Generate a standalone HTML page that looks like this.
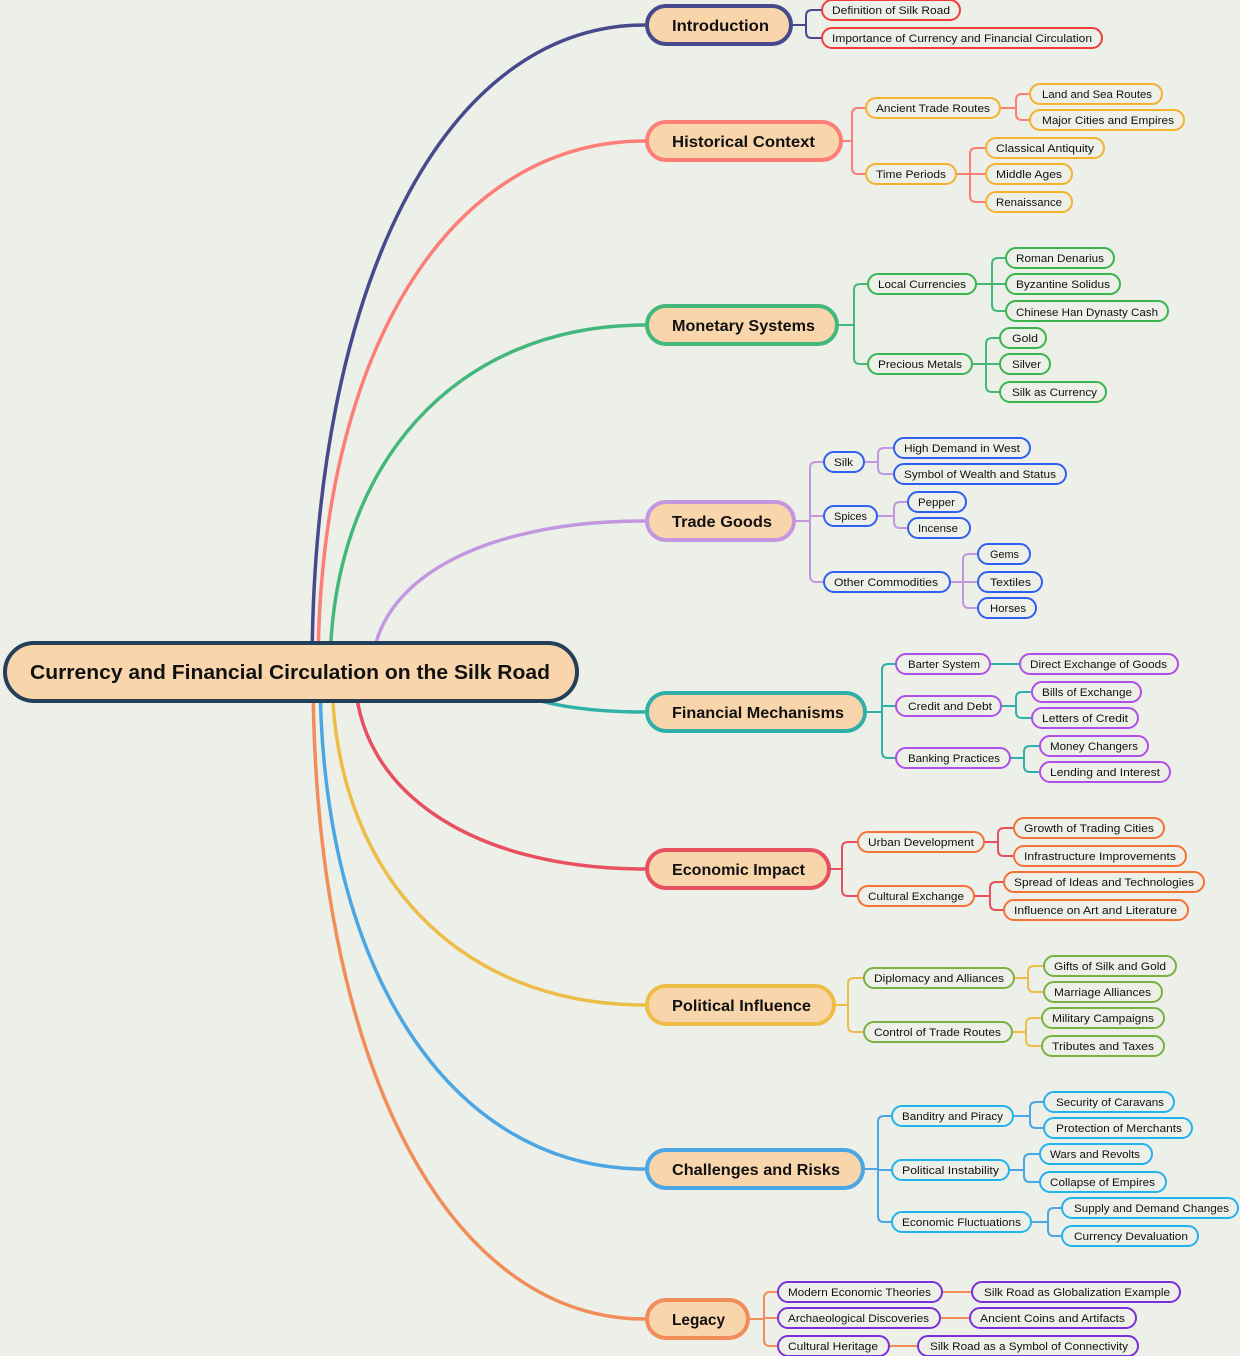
<!DOCTYPE html>
<html><head><meta charset="utf-8"><style>
html,body{margin:0;padding:0;background:#ecf0e9;}
svg{display:block;}
text{font-family:"Liberation Sans","DejaVu Sans",sans-serif;fill:#111;}
.s{font-size:11px;}
.m{font-size:16px;font-weight:bold;}
.r{font-size:20px;font-weight:bold;}
.c{fill:none;stroke-width:2;stroke-linejoin:round;}
.mc{fill:none;stroke-width:3.5;}
</style></head><body>
<svg width="1240" height="1356" viewBox="0 0 1240 1356" xmlns="http://www.w3.org/2000/svg">
<rect width="1240" height="1356" fill="#ecf0e9"/>
<!-- main curves -->
<path class="mc" stroke="#464a8c" d="M312,672 C312,284 445,25 645,25"/>
<path class="mc" stroke="#fd7d77" d="M318,672 C318,353 449,141 645,141"/>
<path class="mc" stroke="#44b87a" d="M330,672 C330,464 456,325 645,325"/>
<path class="mc" stroke="#c397e0" d="M372,672 C372,581 481,521 645,521"/>
<path class="mc" stroke="#2fb0a8" d="M530,698 Q575,712 645,712"/>
<path class="mc" stroke="#e8505f" d="M355,672 C355,790 471,869 645,869"/>
<path class="mc" stroke="#edbd48" d="M332,672 C332,872 457,1005 645,1005"/>
<path class="mc" stroke="#4ba6e3" d="M320,672 C320,970 450,1169 645,1169"/>
<path class="mc" stroke="#f28c58" d="M313,672 C313,1060 446,1319 645,1319"/>

<!-- sub connectors -->
<path class="c" stroke="#464a8c" d="M792,25H806 M806,25V16Q806,10 812,10H822 M806,25V32Q806,38 812,38H822"/>
<path class="c" stroke="#fd7d77" d="M842,141H852 M852,141V114Q852,108 858,108H866 M852,141V168Q852,174 858,174H866
M1000,108H1016 M1016,108V100Q1016,94 1022,94H1030 M1016,108V114Q1016,120 1022,120H1030
M956,174H970 M970,174V154Q970,148 976,148H986 M970,174H986 M970,174V196Q970,202 976,202H986"/>
<path class="c" stroke="#44b87a" d="M838,325H854 M854,325V290Q854,284 860,284H868 M854,325V358Q854,364 860,364H868
M976,284H992 M992,284V264Q992,258 998,258H1006 M992,284H1006 M992,284V305Q992,311 998,311H1006
M972,364H986 M986,364V344Q986,338 992,338H1000 M986,364H1000 M986,364V386Q986,392 992,392H1000"/>
<path class="c" stroke="#c397e0" d="M795,521H810 M810,521V468Q810,462 816,462H824 M810,521V516H824 M810,521V576Q810,582 816,582H824
M864,462H878 M878,462V454Q878,448 884,448H894 M878,462V468Q878,474 884,474H894
M877,516H894 M894,516V508Q894,502 900,502H908 M894,516V522Q894,528 900,528H908
M950,582H963 M963,582V560Q963,554 969,554H978 M963,582H978 M963,582V602Q963,608 969,608H978"/>
<path class="c" stroke="#2fb0a8" d="M866,712H882 M882,712V670Q882,664 888,664H896 M882,712V706H896 M882,712V752Q882,758 888,758H896
M990,664H1020
M1001,706H1016 M1016,706V698Q1016,692 1022,692H1032 M1016,706V712Q1016,718 1022,718H1032
M1010,758H1024 M1024,758V752Q1024,746 1030,746H1040 M1024,758V766Q1024,772 1030,772H1040"/>
<path class="c" stroke="#e8505f" d="M830,869H842 M842,869V848Q842,842 848,842H858 M842,869V890Q842,896 848,896H858
M984,842H998 M998,842V834Q998,828 1004,828H1014 M998,842V850Q998,856 1004,856H1014
M974,896H990 M990,896V888Q990,882 996,882H1004 M990,896V904Q990,910 996,910H1004"/>
<path class="c" stroke="#edbd48" d="M835,1005H848 M848,1005V984Q848,978 854,978H864 M848,1005V1026Q848,1032 854,1032H864
M1014,978H1028 M1028,978V972Q1028,966 1034,966H1044 M1028,978V986Q1028,992 1034,992H1044
M1012,1032H1026 M1026,1032V1024Q1026,1018 1032,1018H1042 M1026,1032V1040Q1026,1046 1032,1046H1042"/>
<path class="c" stroke="#4ba6e3" d="M864,1169H878 M878,1169V1122Q878,1116 884,1116H892 M878,1169V1170H892 M878,1169V1216Q878,1222 884,1222H892
M1013,1116H1030 M1030,1116V1108Q1030,1102 1036,1102H1044 M1030,1116V1122Q1030,1128 1036,1128H1044
M1009,1170H1024 M1024,1170V1160Q1024,1154 1030,1154H1040 M1024,1170V1176Q1024,1182 1030,1182H1040
M1031,1222H1048 M1048,1222V1214Q1048,1208 1054,1208H1062 M1048,1222V1230Q1048,1236 1054,1236H1062"/>
<path class="c" stroke="#f28c58" d="M749,1319H764 M764,1319V1298Q764,1292 770,1292H778 M764,1319V1318H778 M764,1319V1340Q764,1346 770,1346H778
M942,1292H972 M940,1318H970 M889,1346H918"/>

<!-- root -->
<rect x="5" y="643" width="572" height="58" rx="29" fill="#f9d5ab" stroke="#243f5a" stroke-width="4"/>
<text class="r" x="30" y="679" textLength="520" lengthAdjust="spacingAndGlyphs">Currency and Financial Circulation on the Silk Road</text>

<!-- main nodes -->
<g fill="#f9d5ab" stroke-width="4">
<rect x="647" y="6" width="144" height="38" rx="19" stroke="#464a8c"/>
<rect x="647" y="122" width="194" height="38" rx="19" stroke="#fd7d77"/>
<rect x="647" y="306" width="190" height="38" rx="19" stroke="#44b87a"/>
<rect x="647" y="502" width="147" height="38" rx="19" stroke="#c397e0"/>
<rect x="647" y="693" width="218" height="38" rx="19" stroke="#2fb0a8"/>
<rect x="647" y="850" width="182" height="38" rx="19" stroke="#e8505f"/>
<rect x="647" y="986" width="187" height="38" rx="19" stroke="#edbd48"/>
<rect x="647" y="1150" width="216" height="38" rx="19" stroke="#4ba6e3"/>
<rect x="647" y="1300" width="101" height="38" rx="19" stroke="#f28c58"/>
</g>
<g class="m">
<text class="m" x="672" y="31" textLength="97" lengthAdjust="spacingAndGlyphs">Introduction</text>
<text class="m" x="672" y="147" textLength="143" lengthAdjust="spacingAndGlyphs">Historical Context</text>
<text class="m" x="672" y="331" textLength="143" lengthAdjust="spacingAndGlyphs">Monetary Systems</text>
<text class="m" x="672" y="527" textLength="100" lengthAdjust="spacingAndGlyphs">Trade Goods</text>
<text class="m" x="672" y="718" textLength="172" lengthAdjust="spacingAndGlyphs">Financial Mechanisms</text>
<text class="m" x="672" y="875" textLength="133" lengthAdjust="spacingAndGlyphs">Economic Impact</text>
<text class="m" x="672" y="1011" textLength="139" lengthAdjust="spacingAndGlyphs">Political Influence</text>
<text class="m" x="672" y="1175" textLength="168" lengthAdjust="spacingAndGlyphs">Challenges and Risks</text>
<text class="m" x="672" y="1325" textLength="53" lengthAdjust="spacingAndGlyphs">Legacy</text>
</g>

<!-- sub nodes -->
<g fill="none" stroke-width="2">
<g stroke="#f23c3c">
<rect x="822" y="0" width="138" height="20" rx="10"/>
<rect x="822" y="28" width="280" height="20" rx="10"/>
</g>
<g stroke="#f5b12b">
<rect x="866" y="98" width="134" height="20" rx="10"/>
<rect x="1030" y="84" width="132" height="20" rx="10"/>
<rect x="1030" y="110" width="154" height="20" rx="10"/>
<rect x="866" y="164" width="90" height="20" rx="10"/>
<rect x="986" y="138" width="118" height="20" rx="10"/>
<rect x="986" y="164" width="86" height="20" rx="10"/>
<rect x="986" y="192" width="86" height="20" rx="10"/>
</g>
<g stroke="#3ab44c">
<rect x="868" y="274" width="108" height="20" rx="10"/>
<rect x="1006" y="248" width="108" height="20" rx="10"/>
<rect x="1006" y="274" width="114" height="20" rx="10"/>
<rect x="1006" y="301" width="162" height="20" rx="10"/>
<rect x="868" y="354" width="104" height="20" rx="10"/>
<rect x="1000" y="328" width="46" height="20" rx="10"/>
<rect x="1000" y="354" width="50" height="20" rx="10"/>
<rect x="1000" y="382" width="106" height="20" rx="10"/>
</g>
<g stroke="#2f5ff0">
<rect x="824" y="452" width="40" height="20" rx="10"/>
<rect x="894" y="438" width="136" height="20" rx="10"/>
<rect x="894" y="464" width="172" height="20" rx="10"/>
<rect x="824" y="506" width="53" height="20" rx="10"/>
<rect x="908" y="492" width="58" height="20" rx="10"/>
<rect x="908" y="518" width="62" height="20" rx="10"/>
<rect x="824" y="572" width="126" height="20" rx="10"/>
<rect x="978" y="544" width="52" height="20" rx="10"/>
<rect x="978" y="572" width="64" height="20" rx="10"/>
<rect x="978" y="598" width="58" height="20" rx="10"/>
</g>
<g stroke="#b24ee8">
<rect x="896" y="654" width="94" height="20" rx="10"/>
<rect x="1020" y="654" width="158" height="20" rx="10"/>
<rect x="896" y="696" width="105" height="20" rx="10"/>
<rect x="1032" y="682" width="109" height="20" rx="10"/>
<rect x="1032" y="708" width="106" height="20" rx="10"/>
<rect x="896" y="748" width="114" height="20" rx="10"/>
<rect x="1040" y="736" width="108" height="20" rx="10"/>
<rect x="1040" y="762" width="130" height="20" rx="10"/>
</g>
<g stroke="#f57234">
<rect x="858" y="832" width="126" height="20" rx="10"/>
<rect x="1014" y="818" width="150" height="20" rx="10"/>
<rect x="1014" y="846" width="172" height="20" rx="10"/>
<rect x="858" y="886" width="116" height="20" rx="10"/>
<rect x="1004" y="872" width="200" height="20" rx="10"/>
<rect x="1004" y="900" width="184" height="20" rx="10"/>
</g>
<g stroke="#7ab040">
<rect x="864" y="968" width="150" height="20" rx="10"/>
<rect x="1044" y="956" width="132" height="20" rx="10"/>
<rect x="1044" y="982" width="118" height="20" rx="10"/>
<rect x="864" y="1022" width="148" height="20" rx="10"/>
<rect x="1042" y="1008" width="122" height="20" rx="10"/>
<rect x="1042" y="1036" width="122" height="20" rx="10"/>
</g>
<g stroke="#22b3ec">
<rect x="892" y="1106" width="121" height="20" rx="10"/>
<rect x="1044" y="1092" width="130" height="20" rx="10"/>
<rect x="1044" y="1118" width="148" height="20" rx="10"/>
<rect x="892" y="1160" width="117" height="20" rx="10"/>
<rect x="1040" y="1144" width="112" height="20" rx="10"/>
<rect x="1040" y="1172" width="126" height="20" rx="10"/>
<rect x="892" y="1212" width="139" height="20" rx="10"/>
<rect x="1062" y="1198" width="176" height="20" rx="10"/>
<rect x="1062" y="1226" width="136" height="20" rx="10"/>
</g>
<g stroke="#7a2fd8">
<rect x="778" y="1282" width="164" height="20" rx="10"/>
<rect x="972" y="1282" width="208" height="20" rx="10"/>
<rect x="778" y="1308" width="162" height="20" rx="10"/>
<rect x="970" y="1308" width="166" height="20" rx="10"/>
<rect x="778" y="1336" width="111" height="20" rx="10"/>
<rect x="918" y="1336" width="220" height="20" rx="10"/>
</g>
</g>

<g class="s">
<text class="s" x="832" y="14" textLength="118" lengthAdjust="spacingAndGlyphs">Definition of Silk Road</text>
<text class="s" x="832" y="42" textLength="260" lengthAdjust="spacingAndGlyphs">Importance of Currency and Financial Circulation</text>

<text class="s" x="876" y="112" textLength="114" lengthAdjust="spacingAndGlyphs">Ancient Trade Routes</text>
<text class="s" x="1042" y="98" textLength="110" lengthAdjust="spacingAndGlyphs">Land and Sea Routes</text>
<text class="s" x="1042" y="124" textLength="132" lengthAdjust="spacingAndGlyphs">Major Cities and Empires</text>
<text class="s" x="876" y="178" textLength="70" lengthAdjust="spacingAndGlyphs">Time Periods</text>
<text class="s" x="996" y="152" textLength="98" lengthAdjust="spacingAndGlyphs">Classical Antiquity</text>
<text class="s" x="996" y="178" textLength="66" lengthAdjust="spacingAndGlyphs">Middle Ages</text>
<text class="s" x="996" y="206" textLength="66" lengthAdjust="spacingAndGlyphs">Renaissance</text>

<text class="s" x="878" y="288" textLength="88" lengthAdjust="spacingAndGlyphs">Local Currencies</text>
<text class="s" x="1016" y="262" textLength="88" lengthAdjust="spacingAndGlyphs">Roman Denarius</text>
<text class="s" x="1016" y="288" textLength="94" lengthAdjust="spacingAndGlyphs">Byzantine Solidus</text>
<text class="s" x="1016" y="316" textLength="142" lengthAdjust="spacingAndGlyphs">Chinese Han Dynasty Cash</text>
<text class="s" x="878" y="368" textLength="84" lengthAdjust="spacingAndGlyphs">Precious Metals</text>
<text class="s" x="1012" y="342" textLength="26" lengthAdjust="spacingAndGlyphs">Gold</text>
<text class="s" x="1012" y="368" textLength="29" lengthAdjust="spacingAndGlyphs">Silver</text>
<text class="s" x="1012" y="396" textLength="85" lengthAdjust="spacingAndGlyphs">Silk as Currency</text>

<text class="s" x="834" y="466" textLength="19" lengthAdjust="spacingAndGlyphs">Silk</text>
<text class="s" x="904" y="452" textLength="116" lengthAdjust="spacingAndGlyphs">High Demand in West</text>
<text class="s" x="904" y="478" textLength="152" lengthAdjust="spacingAndGlyphs">Symbol of Wealth and Status</text>
<text class="s" x="834" y="520" textLength="33" lengthAdjust="spacingAndGlyphs">Spices</text>
<text class="s" x="918" y="506" textLength="37" lengthAdjust="spacingAndGlyphs">Pepper</text>
<text class="s" x="918" y="532" textLength="40" lengthAdjust="spacingAndGlyphs">Incense</text>
<text class="s" x="834" y="586" textLength="104" lengthAdjust="spacingAndGlyphs">Other Commodities</text>
<text class="s" x="990" y="558" textLength="29" lengthAdjust="spacingAndGlyphs">Gems</text>
<text class="s" x="990" y="586" textLength="41" lengthAdjust="spacingAndGlyphs">Textiles</text>
<text class="s" x="990" y="612" textLength="36" lengthAdjust="spacingAndGlyphs">Horses</text>

<text class="s" x="908" y="668" textLength="72" lengthAdjust="spacingAndGlyphs">Barter System</text>
<text class="s" x="1030" y="668" textLength="137" lengthAdjust="spacingAndGlyphs">Direct Exchange of Goods</text>
<text class="s" x="908" y="710" textLength="84" lengthAdjust="spacingAndGlyphs">Credit and Debt</text>
<text class="s" x="1042" y="696" textLength="90" lengthAdjust="spacingAndGlyphs">Bills of Exchange</text>
<text class="s" x="1042" y="722" textLength="86" lengthAdjust="spacingAndGlyphs">Letters of Credit</text>
<text class="s" x="908" y="762" textLength="92" lengthAdjust="spacingAndGlyphs">Banking Practices</text>
<text class="s" x="1050" y="750" textLength="88" lengthAdjust="spacingAndGlyphs">Money Changers</text>
<text class="s" x="1050" y="776" textLength="110" lengthAdjust="spacingAndGlyphs">Lending and Interest</text>

<text class="s" x="868" y="846" textLength="106" lengthAdjust="spacingAndGlyphs">Urban Development</text>
<text class="s" x="1024" y="832" textLength="130" lengthAdjust="spacingAndGlyphs">Growth of Trading Cities</text>
<text class="s" x="1024" y="860" textLength="152" lengthAdjust="spacingAndGlyphs">Infrastructure Improvements</text>
<text class="s" x="868" y="900" textLength="96" lengthAdjust="spacingAndGlyphs">Cultural Exchange</text>
<text class="s" x="1014" y="886" textLength="180" lengthAdjust="spacingAndGlyphs">Spread of Ideas and Technologies</text>
<text class="s" x="1014" y="914" textLength="163" lengthAdjust="spacingAndGlyphs">Influence on Art and Literature</text>

<text class="s" x="874" y="982" textLength="130" lengthAdjust="spacingAndGlyphs">Diplomacy and Alliances</text>
<text class="s" x="1054" y="970" textLength="112" lengthAdjust="spacingAndGlyphs">Gifts of Silk and Gold</text>
<text class="s" x="1054" y="996" textLength="97" lengthAdjust="spacingAndGlyphs">Marriage Alliances</text>
<text class="s" x="874" y="1036" textLength="127" lengthAdjust="spacingAndGlyphs">Control of Trade Routes</text>
<text class="s" x="1052" y="1022" textLength="102" lengthAdjust="spacingAndGlyphs">Military Campaigns</text>
<text class="s" x="1052" y="1050" textLength="102" lengthAdjust="spacingAndGlyphs">Tributes and Taxes</text>

<text class="s" x="902" y="1120" textLength="101" lengthAdjust="spacingAndGlyphs">Banditry and Piracy</text>
<text class="s" x="1056" y="1106" textLength="108" lengthAdjust="spacingAndGlyphs">Security of Caravans</text>
<text class="s" x="1056" y="1132" textLength="126" lengthAdjust="spacingAndGlyphs">Protection of Merchants</text>
<text class="s" x="902" y="1174" textLength="97" lengthAdjust="spacingAndGlyphs">Political Instability</text>
<text class="s" x="1050" y="1158" textLength="90" lengthAdjust="spacingAndGlyphs">Wars and Revolts</text>
<text class="s" x="1050" y="1186" textLength="105" lengthAdjust="spacingAndGlyphs">Collapse of Empires</text>
<text class="s" x="902" y="1226" textLength="119" lengthAdjust="spacingAndGlyphs">Economic Fluctuations</text>
<text class="s" x="1074" y="1212" textLength="155" lengthAdjust="spacingAndGlyphs">Supply and Demand Changes</text>
<text class="s" x="1074" y="1240" textLength="114" lengthAdjust="spacingAndGlyphs">Currency Devaluation</text>

<text class="s" x="788" y="1296" textLength="143" lengthAdjust="spacingAndGlyphs">Modern Economic Theories</text>
<text class="s" x="984" y="1296" textLength="186" lengthAdjust="spacingAndGlyphs">Silk Road as Globalization Example</text>
<text class="s" x="788" y="1322" textLength="141" lengthAdjust="spacingAndGlyphs">Archaeological Discoveries</text>
<text class="s" x="980" y="1322" textLength="145" lengthAdjust="spacingAndGlyphs">Ancient Coins and Artifacts</text>
<text class="s" x="788" y="1350" textLength="90" lengthAdjust="spacingAndGlyphs">Cultural Heritage</text>
<text class="s" x="930" y="1350" textLength="198" lengthAdjust="spacingAndGlyphs">Silk Road as a Symbol of Connectivity</text>
</g>
</svg>
</body></html>
